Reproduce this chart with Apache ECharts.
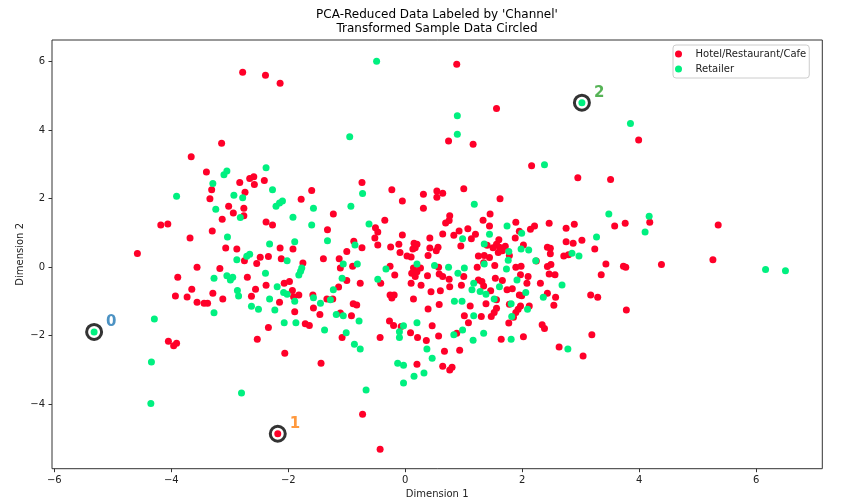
<!DOCTYPE html>
<html>
<head>
<meta charset="utf-8">
<script src="https://cdn.jsdelivr.net/npm/echarts@6/dist/echarts.min.js"></script>
<style>html,body{margin:0;padding:0;background:#fff}#c{width:844px;height:502px}</style>
</head>
<body>
<div id="c"></div>
<script>
const titleLines = ["PCA-Reduced Data Labeled by 'Channel'", "Transformed Sample Data Circled"];
const seriesNames = ['Hotel/Restaurant/Cafe', 'Retailer'];
const xTicks = [-6, -4, -2, 0, 2, 4, 6];
const yTicks = [-4, -2, 0, 2, 4, 6];
const xRange = [-6.04, 7.13];
const yRange = [-5.88, 6.63];

const hotelPoints = [
[-2.78,5.69],[-2.39,5.60],[-2.14,5.37],[-3.14,3.62],[0.88,5.92],[1.56,4.63],[3.99,3.71],[0.74,3.68],[1.16,3.59],
[4.18,1.31],[5.35,1.23],[5.26,0.22],[4.38,0.08],[-0.73,-4.29],[-0.43,-5.31],
[-3.66,3.22],[-3.40,2.78],[-2.83,2.47],[-2.66,2.59],[-2.59,2.64],[-2.58,2.41],[-2.41,2.53],[-3.31,2.26],[-2.74,2.19],[-3.34,2.00],[-1.78,1.98],[-3.02,1.78],[-2.76,1.72],[-2.94,1.58],[-2.76,1.50],[-3.13,1.40],[-2.38,1.32],[-2.27,1.23],[-4.18,1.23],[-4.06,1.26],[-3.30,1.06],[-3.68,0.85],[-4.58,0.40],[-3.07,0.56],[-2.88,0.53],[-2.75,0.19],[-2.48,0.29],[-2.34,0.31],[-2.54,0.11],[-2.14,0.56],[-1.92,0.53],[-2.12,0.25],[-3.56,0.00],[-3.17,-0.04],
[-0.74,2.47],[-1.60,2.24],[-0.23,2.26],[-0.05,1.93],[0.31,2.13],[0.54,2.22],[0.64,2.16],[0.54,2.04],[1.00,2.29],[-1.23,1.55],[0.31,1.72],[-0.35,1.37],[-0.51,1.15],[-0.47,1.03],[-1.33,1.09],[0.76,1.50],[0.75,1.36],[0.69,1.29],[0.64,0.97],[0.83,0.93],[0.92,1.06],[1.07,1.12],[-0.05,0.94],[-0.52,0.85],[-0.88,0.76],[-0.47,0.65],[-0.74,0.57],[-1.00,0.46],[-0.25,0.59],[-0.11,0.67],[0.15,0.70],[0.20,0.67],[0.17,0.57],[0.13,0.53],[0.42,0.85],[0.42,0.56],[0.56,0.58],[0.53,0.48],[0.95,0.62],[-0.09,0.43],[-1.40,0.25],[-1.13,0.25],[0.03,0.33],[0.10,0.30],[0.39,0.34],[-1.75,0.12],[-0.90,0.03],[-1.11,-0.02],[-0.26,0.03],[0.14,-0.02],[0.26,-0.02],[0.57,0.00],[1.13,0.83],
[2.16,2.96],[2.95,2.61],[3.51,2.56],[1.62,2.00],[1.45,1.55],[1.33,1.37],[1.44,1.20],[1.89,1.31],[2.46,1.28],[2.89,1.25],[2.75,1.14],[3.58,1.20],[3.76,1.28],[2.14,1.11],[2.21,1.20],[1.95,1.05],[1.20,0.96],[1.88,0.85],[2.75,0.74],[2.87,0.70],[3.02,0.79],[3.24,0.53],[1.60,0.80],[1.56,0.67],[1.50,0.57],[1.61,0.58],[1.71,0.61],[1.40,0.64],[1.59,0.43],[1.66,0.48],[1.78,0.34],[2.02,0.65],[2.43,0.58],[2.48,0.55],[2.48,0.39],[2.71,0.33],[2.79,0.36],[1.25,0.33],[1.35,0.34],[1.44,0.28],[2.24,0.18],[1.53,0.05],[1.89,0.00],[1.98,0.03],[2.43,0.02],[2.49,0.08],[3.43,0.09],[3.73,0.03],[3.77,0.00],[1.23,0.00],[1.34,0.13],
[-3.89,-0.29],[-2.70,-0.29],[-2.56,-0.64],[-2.38,-0.53],[-2.07,-0.47],[-1.98,-0.42],[-3.65,-0.64],[-3.93,-0.84],[-3.73,-0.87],[-3.29,-0.76],[-3.12,-0.93],[-3.56,-1.02],[-3.44,-1.05],[-3.38,-1.05],[-2.63,-0.85],[-1.93,-0.68],[-1.91,-0.86],[-1.82,-0.81],[-2.15,-1.02],[-1.89,-1.30],[-2.34,-1.76],[-4.05,-2.16],[-3.96,-2.29],[-3.91,-2.22],[-2.53,-2.10],[-2.06,-2.51],
[-1.00,-0.39],[-0.77,-0.47],[-0.42,-0.47],[-0.18,-0.23],[0.11,-0.18],[0.17,-0.27],[0.20,-0.13],[0.10,-0.47],[0.38,-0.25],[0.27,-0.53],[0.58,-0.20],[0.64,-0.27],[0.75,-0.35],[1.00,-0.27],[0.76,-0.57],[0.96,-0.53],[-1.58,-0.81],[-1.14,-0.58],[-1.34,-0.93],[-1.24,-0.93],[-1.57,-1.19],[-1.46,-1.38],[-1.11,-1.34],[-0.92,-1.42],[-0.89,-1.07],[-0.83,-1.10],[-0.26,-0.81],[-0.19,-0.81],[-0.23,-0.90],[0.14,-0.93],[0.44,-0.72],[0.60,-0.69],[0.58,-1.09],[0.39,-1.22],[1.01,-1.42],[1.08,-1.62],[-1.71,-1.65],[-1.64,-1.70],[-1.08,-2.05],[-0.27,-1.57],[-0.20,-1.70],[-0.07,-1.73],[0.09,-1.91],[0.21,-2.05],[0.36,-2.14],[0.46,-1.71],[0.57,-2.01],[-0.43,-2.05],[0.88,-1.93],[0.67,-2.45],[0.93,-2.42],[-1.44,-2.80],[0.20,-2.83],[0.64,-2.89],[0.76,-3.00],[0.80,-2.92],
[1.25,-0.37],[1.31,-0.42],[1.34,-0.55],[1.46,-0.69],[1.54,-0.32],[1.66,-0.39],[1.74,-0.66],[1.83,-0.63],[2.10,-0.27],[2.08,-0.47],[1.95,-0.81],[1.99,-0.83],[1.56,-0.95],[1.38,-1.07],[1.11,-1.13],[1.78,-1.08],[1.97,-1.13],[2.12,-1.13],[1.93,-1.23],[1.89,-1.32],[1.85,-1.46],[1.56,-1.20],[1.52,-1.32],[1.47,-1.44],[1.30,-1.44],[1.77,-1.63],[1.97,-0.22],[2.46,-0.20],[2.56,-0.22],[2.31,-0.47],[3.35,-0.22],[2.43,-0.76],[2.57,-0.88],[3.17,-0.81],[3.29,-0.88],[3.78,-1.25],[2.54,-1.11],[2.34,-1.68],[2.38,-1.79],[2.02,-2.03],[1.64,-2.10],[2.63,-2.33],[3.04,-2.59],[3.19,-1.97],
[-2.18,-4.86]
];

const retailerPoints = [
[-0.49,6.01],[-0.95,3.81],[0.89,4.42],[0.89,3.88],[3.85,4.19],[3.02,4.80],[4.17,1.49],[4.10,1.03],[6.16,-0.07],[6.50,-0.10],[-4.35,-3.98],[-2.80,-3.67],[-0.67,-3.58],[-5.32,-1.89],
[-3.10,2.70],[-3.05,2.81],[-2.38,2.90],[-3.29,2.44],[-3.91,2.07],[-2.93,2.10],[-2.78,2.03],[-2.27,2.26],[-2.21,1.78],[-2.15,1.87],[-2.10,1.93],[-3.24,1.69],[-2.82,1.45],[-1.92,1.46],[-3.04,0.88],[-2.32,0.68],[-1.89,0.74],[-2.71,0.32],[-2.66,0.38],[-2.88,0.22],[-2.02,0.19],[-1.82,-0.23],[-1.79,-0.12],[-1.77,-0.02],
[-0.73,2.15],[-1.57,1.72],[-0.93,1.78],[-1.60,1.23],[-0.62,1.26],[0.98,0.83],[-1.33,0.77],[-0.86,0.65],[-1.06,0.09],[-0.82,0.09],[-0.33,-0.05],[0.20,0.09],[0.50,0.05],[0.74,0.00],[1.01,-0.02],
[2.38,2.99],[1.18,1.84],[3.48,1.55],[1.74,1.20],[1.99,0.99],[1.44,0.96],[3.27,0.88],[1.35,0.68],[1.77,0.46],[1.98,0.53],[2.11,0.50],[2.85,0.41],[2.97,0.33],[1.76,0.20],[2.23,0.19],[1.35,0.09],[1.73,-0.05],
[-3.27,-0.32],[-3.05,-0.25],[-2.99,-0.37],[-2.95,-0.29],[-2.39,-0.18],[-2.87,-0.68],[-2.85,-0.84],[-2.19,-0.57],[-2.32,-0.93],[-2.08,-0.74],[-2.02,-0.79],[-1.89,-0.99],[-2.63,-1.14],[-2.51,-1.23],[-3.27,-1.33],[-2.23,-1.25],[-4.29,-1.51],[-2.07,-1.62],[-1.87,-1.62],[-4.34,-2.77],
[-1.08,-0.32],[-0.47,-0.35],[0.90,-0.18],[-1.57,-0.89],[-1.23,-0.66],[-1.28,-0.95],[-1.45,-1.05],[-1.18,-1.38],[-1.06,-1.42],[-0.79,-1.57],[0.84,-0.99],[0.97,-0.99],[-1.38,-1.83],[-1.01,-1.91],[-0.03,-1.71],[-0.10,-1.88],[-0.10,-2.05],[0.20,-1.62],[0.83,-1.97],[0.98,-1.83],[-0.87,-2.25],[-0.77,-2.39],[0.37,-2.39],[0.46,-2.66],[-0.13,-2.80],[-0.03,-2.86],[0.32,-3.09],[0.15,-3.18],[-0.03,-3.38],
[1.17,-0.47],[1.14,-0.66],[1.28,-0.71],[1.38,-0.79],[1.61,-0.57],[1.91,-0.37],[2.06,-0.74],[1.52,-0.93],[1.81,-1.07],[2.09,-1.23],[1.82,-1.44],[1.17,-1.42],[2.68,-0.52],[2.36,-0.88],[1.81,-2.10],[1.34,-1.93],[1.16,-2.13],[2.78,-2.39]
];

const samplePoints = [[-5.32,-1.89],[-2.18,-4.86],[3.02,4.80]];
const sampleLabels = ['0', '1', '2'];
const sampleLabelColors = ['#1f77b4', '#ff7f0e', '#2ca02c'];

const FONT = 'DejaVu Sans';
const fmt = v => (v < 0 ? '\u2212' + (-v) : String(v));

const chart = echarts.init(document.getElementById('c'), null, {renderer: 'canvas'});
chart.setOption({
  animation: false,
  backgroundColor: '#fff',
  textStyle: {fontFamily: FONT},
  graphic: [
    {type: 'text', x: 437, y: 14.5, silent: true,
     style: {text: titleLines[0], fontFamily: FONT, fontSize: 12, fill: '#000', align: 'center', verticalAlign: 'middle'}},
    {type: 'text', x: 437, y: 29, silent: true,
     style: {text: titleLines[1], fontFamily: FONT, fontSize: 12, fill: '#000', align: 'center', verticalAlign: 'middle'}}
  ],
  grid: {left: 52, right: 21.7, top: 40, bottom: 33.3, show: true, borderColor: '#333', borderWidth: 1,
         backgroundColor: 'transparent', containLabel: false, outerBoundsMode: 'none'},
  legend: {
    data: seriesNames, orient: 'vertical', left: 673, top: 45,
    padding: [2, 3, 2, 2], itemWidth: 24, itemHeight: 7, itemGap: 1,
    icon: 'circle',
    textStyle: {fontFamily: FONT, fontSize: 10, color: '#222', lineHeight: 14},
    borderColor: '#ccc', borderWidth: 1, borderRadius: 3, backgroundColor: 'rgba(255,255,255,0.8)'
  },
  xAxis: {
    type: 'value', min: xRange[0], max: xRange[1],
    name: 'Dimension 1', nameLocation: 'middle', nameGap: 21, nameMoveOverlap: false,
    nameTextStyle: {fontFamily: FONT, fontSize: 10, color: '#222'},
    axisLine: {show: false, onZero: false},
    axisTick: {show: true, length: 3.5, lineStyle: {color: '#333'}, customValues: xTicks},
    axisLabel: {fontFamily: FONT, fontSize: 10, color: '#222', margin: 7, formatter: fmt, customValues: xTicks},
    splitLine: {show: false}
  },
  yAxis: {
    type: 'value', min: yRange[0], max: yRange[1],
    name: 'Dimension 2', nameLocation: 'middle', nameGap: 27, nameRotate: 90, nameMoveOverlap: false,
    nameTextStyle: {fontFamily: FONT, fontSize: 10, color: '#222'},
    axisLine: {show: false, onZero: false},
    axisTick: {show: true, length: 3.5, lineStyle: {color: '#333'}, customValues: yTicks},
    axisLabel: {fontFamily: FONT, fontSize: 10, color: '#222', margin: 7, formatter: fmt, customValues: yTicks},
    splitLine: {show: false}
  },
  series: [
    {name: seriesNames[0], type: 'scatter', data: hotelPoints, symbolSize: 7,
     itemStyle: {color: '#ff0029', opacity: 1}, emphasis: {disabled: true}},
    {name: seriesNames[1], type: 'scatter', data: retailerPoints, symbolSize: 7,
     itemStyle: {color: '#00f080', opacity: 1}, emphasis: {disabled: true}},
    {name: 'samples', type: 'scatter', symbolSize: 15, z: 5,
     data: samplePoints.map((p, i) => ({
       value: p,
       label: {show: true, formatter: sampleLabels[i], color: sampleLabelColors[i]}
     })),
     itemStyle: {color: 'rgba(0,0,0,0)', borderColor: '#000', borderWidth: 3},
     label: {position: 'right', distance: 3, offset: [0, -10], fontFamily: FONT, fontSize: 15, fontWeight: 'bold'},
     emphasis: {disabled: true}}
  ]
});
</script>
</body>
</html>
